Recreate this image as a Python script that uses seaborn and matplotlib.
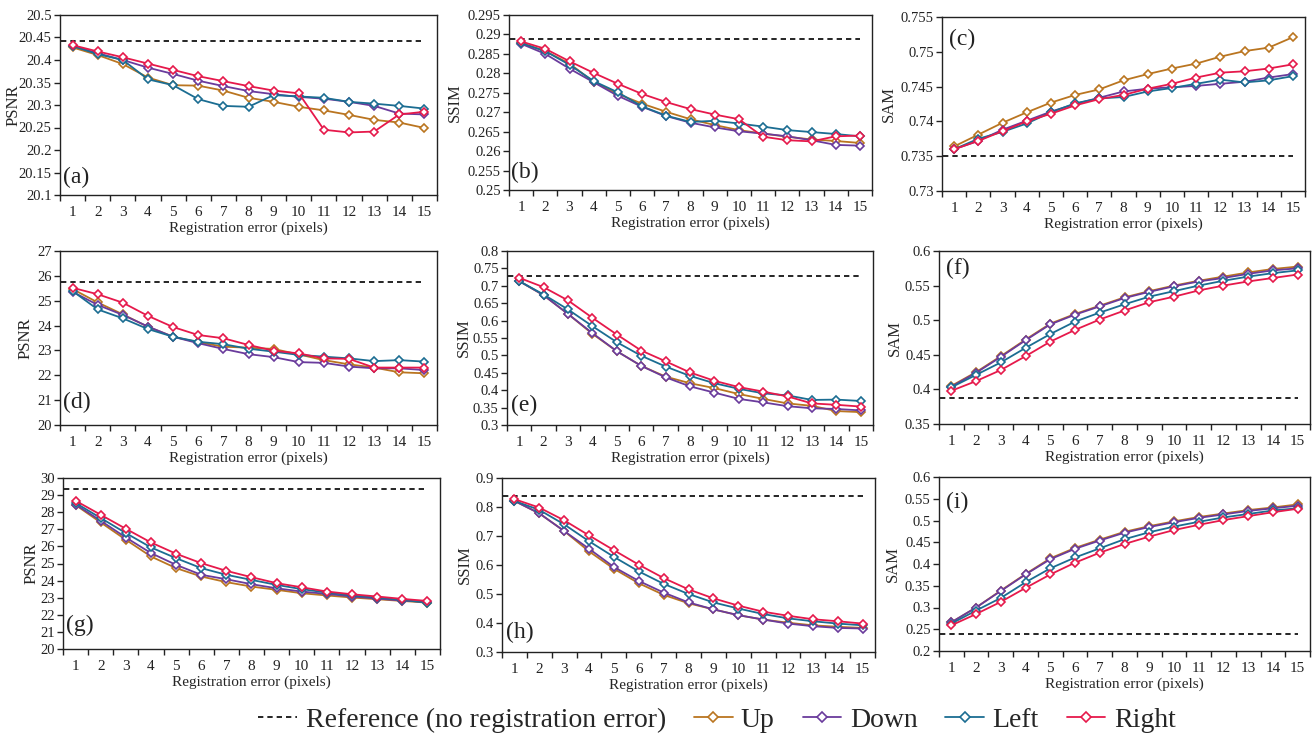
import numpy as np
import pandas as pd
import matplotlib
matplotlib.use("Agg")
import matplotlib.pyplot as plt
from matplotlib.lines import Line2D
from matplotlib.ticker import FuncFormatter, FixedLocator
import seaborn as sns

# ---------------- data ----------------
shifts = list(range(1, 16))
directions = ["Up", "Down", "Left", "Right"]
colors = {"Up": "#BA7520", "Down": "#6A3B9C", "Left": "#1B6D92", "Right": "#E6194B"}

# (a) PSNR
a_ref = 20.443
a_up = [20.428, 20.411, 20.391, 20.361, 20.344, 20.343, 20.332, 20.316, 20.307, 20.296, 20.288, 20.278, 20.267, 20.261, 20.249]
a_down = [20.432, 20.415, 20.400, 20.383, 20.369, 20.354, 20.342, 20.331, 20.324, 20.318, 20.314, 20.307, 20.298, 20.281, 20.279]
a_left = [20.431, 20.413, 20.400, 20.357, 20.344, 20.313, 20.298, 20.296, 20.322, 20.319, 20.316, 20.307, 20.303, 20.298, 20.292]
a_right = [20.433, 20.419, 20.406, 20.392, 20.378, 20.364, 20.353, 20.342, 20.332, 20.326, 20.245, 20.239, 20.241, 20.279, 20.285]

# (b) SSIM
b_ref = 0.2889
b_up = [0.2878, 0.2857, 0.2825, 0.2778, 0.2747, 0.2722, 0.2701, 0.2682, 0.2667, 0.2654, 0.2645, 0.2637, 0.2630, 0.2626, 0.2621]
b_down = [0.2876, 0.2850, 0.2812, 0.2777, 0.2742, 0.2714, 0.2690, 0.2673, 0.2661, 0.2651, 0.2645, 0.2638, 0.2628, 0.2616, 0.2614]
b_left = [0.2878, 0.2857, 0.2822, 0.2780, 0.2751, 0.2715, 0.2691, 0.2675, 0.2678, 0.2671, 0.2663, 0.2654, 0.2649, 0.2644, 0.2638]
b_right = [0.2882, 0.2863, 0.2831, 0.2801, 0.2773, 0.2747, 0.2726, 0.2708, 0.2694, 0.2682, 0.2637, 0.2628, 0.2625, 0.2638, 0.2640]

# (c) SAM
c_ref = 0.7351
c_up = [0.7364, 0.7381, 0.7398, 0.7413, 0.7427, 0.7438, 0.7446, 0.7459, 0.7468, 0.7476, 0.7483, 0.7493, 0.7501, 0.7506, 0.7521]
c_down = [0.7360, 0.7372, 0.7388, 0.7401, 0.7414, 0.7425, 0.7434, 0.7443, 0.7447, 0.7449, 0.7451, 0.7454, 0.7457, 0.7463, 0.7468]
c_left = [0.7360, 0.7375, 0.7385, 0.7397, 0.7413, 0.7426, 0.7433, 0.7435, 0.7443, 0.7448, 0.7454, 0.7460, 0.7456, 0.7459, 0.7465]
c_right = [0.7360, 0.7372, 0.7386, 0.7400, 0.7411, 0.7423, 0.7432, 0.7438, 0.7447, 0.7454, 0.7463, 0.7470, 0.7472, 0.7476, 0.7482]

# (d) PSNR
d_ref = 25.77
d_up = [25.47, 24.93, 24.45, 23.95, 23.55, 23.33, 23.15, 23.11, 23.06, 22.84, 22.61, 22.44, 22.31, 22.12, 22.08]
d_down = [25.36, 24.83, 24.43, 23.96, 23.55, 23.29, 23.06, 22.85, 22.73, 22.53, 22.50, 22.35, 22.28, 22.28, 22.21]
d_left = [25.39, 24.65, 24.29, 23.86, 23.55, 23.35, 23.25, 23.07, 22.95, 22.82, 22.75, 22.68, 22.57, 22.61, 22.55]
d_right = [25.52, 25.26, 24.92, 24.39, 23.94, 23.62, 23.49, 23.22, 22.99, 22.88, 22.68, 22.66, 22.31, 22.31, 22.31]

# (e) SSIM
e_ref = 0.728
e_up = [0.7135, 0.673, 0.619, 0.562, 0.512, 0.470, 0.439, 0.420, 0.406, 0.389, 0.375, 0.362, 0.355, 0.340, 0.337]
e_down = [0.7135, 0.673, 0.619, 0.564, 0.512, 0.470, 0.437, 0.411, 0.393, 0.375, 0.365, 0.354, 0.348, 0.346, 0.342]
e_left = [0.7135, 0.675, 0.632, 0.584, 0.538, 0.499, 0.468, 0.441, 0.420, 0.404, 0.391, 0.385, 0.372, 0.373, 0.369]
e_right = [0.723, 0.696, 0.658, 0.608, 0.560, 0.514, 0.483, 0.451, 0.427, 0.409, 0.396, 0.382, 0.362, 0.358, 0.353]

# (f) SAM
f_ref = 0.387
f_up = [0.405, 0.425, 0.448, 0.472, 0.495, 0.509, 0.521, 0.533, 0.542, 0.550, 0.557, 0.563, 0.569, 0.574, 0.5775]
f_down = [0.404, 0.424, 0.447, 0.471, 0.494, 0.508, 0.520, 0.532, 0.541, 0.549, 0.556, 0.561, 0.567, 0.572, 0.575]
f_left = [0.403, 0.421, 0.439, 0.460, 0.480, 0.498, 0.511, 0.523, 0.534, 0.542, 0.550, 0.557, 0.563, 0.568, 0.572]
f_right = [0.398, 0.412, 0.428, 0.448, 0.469, 0.486, 0.501, 0.514, 0.526, 0.534, 0.543, 0.550, 0.556, 0.561, 0.566]

# (g) PSNR
g_ref = 29.36
g_up = [28.42, 27.40, 26.39, 25.41, 24.73, 24.24, 23.91, 23.65, 23.46, 23.26, 23.13, 23.01, 22.91, 22.81, 22.71]
g_down = [28.45, 27.50, 26.52, 25.61, 24.92, 24.34, 24.08, 23.79, 23.55, 23.36, 23.22, 23.07, 22.95, 22.83, 22.75]
g_left = [28.54, 27.66, 26.78, 25.94, 25.31, 24.73, 24.34, 24.04, 23.75, 23.50, 23.30, 23.13, 23.01, 22.87, 22.71]
g_right = [28.67, 27.85, 27.03, 26.23, 25.57, 25.02, 24.57, 24.20, 23.85, 23.61, 23.36, 23.20, 23.07, 22.93, 22.81]

# (h) SSIM
h_ref = 0.8386
h_up = [0.821, 0.778, 0.717, 0.647, 0.587, 0.537, 0.497, 0.468, 0.447, 0.427, 0.412, 0.401, 0.392, 0.387, 0.383]
h_down = [0.821, 0.778, 0.717, 0.656, 0.593, 0.545, 0.505, 0.471, 0.447, 0.427, 0.412, 0.398, 0.389, 0.383, 0.381]
h_left = [0.821, 0.790, 0.740, 0.682, 0.628, 0.578, 0.535, 0.500, 0.471, 0.450, 0.431, 0.416, 0.406, 0.398, 0.392]
h_right = [0.827, 0.798, 0.754, 0.702, 0.651, 0.601, 0.555, 0.516, 0.485, 0.460, 0.439, 0.425, 0.413, 0.406, 0.398]

# (i) SAM
i_ref = 0.2386
i_up = [0.266, 0.300, 0.339, 0.377, 0.413, 0.437, 0.456, 0.474, 0.487, 0.498, 0.508, 0.516, 0.524, 0.530, 0.537]
i_down = [0.266, 0.300, 0.338, 0.376, 0.411, 0.435, 0.454, 0.472, 0.485, 0.496, 0.506, 0.514, 0.522, 0.528, 0.534]
i_left = [0.263, 0.293, 0.322, 0.358, 0.390, 0.415, 0.436, 0.457, 0.473, 0.486, 0.497, 0.507, 0.515, 0.523, 0.528]
i_right = [0.259, 0.285, 0.313, 0.345, 0.376, 0.403, 0.426, 0.446, 0.463, 0.478, 0.490, 0.501, 0.510, 0.519, 0.527]

ylabels = ["PSNR", "SSIM", "SAM"] * 3
panel_tags = ["(a)", "(b)", "(c)", "(d)", "(e)", "(f)", "(g)", "(h)", "(i)"]
xlabel = "Registration error (pixels)"
legend_labels = ["Reference (no registration error)", "Up", "Down", "Left", "Right"]

panels = [
    (a_ref, a_up, a_down, a_left, a_right),
    (b_ref, b_up, b_down, b_left, b_right),
    (c_ref, c_up, c_down, c_left, c_right),
    (d_ref, d_up, d_down, d_left, d_right),
    (e_ref, e_up, e_down, e_left, e_right),
    (f_ref, f_up, f_down, f_left, f_right),
    (g_ref, g_up, g_down, g_left, g_right),
    (h_ref, h_up, h_down, h_left, h_right),
    (i_ref, i_up, i_down, i_left, i_right),
]

# y-axis settings (min, max, step)
yaxes = [
    (20.1, 20.5, 0.05), (0.25, 0.295, 0.005), (0.73, 0.755, 0.005),
    (20, 27, 1), (0.3, 0.8, 0.05), (0.35, 0.6, 0.05),
    (20, 30, 1), (0.3, 0.9, 0.1), (0.2, 0.6, 0.05),
]

# axes boxes in pixels (left, right, top, bottom)
W, H = 1315, 738
boxes = [
    (60, 437, 15, 195), (509, 872, 15, 190), (942, 1305, 17, 191),
    (60, 437, 251, 425), (507, 873, 251, 425), (939, 1310, 251, 424),
    (63, 440, 478, 649), (502, 875, 478, 652), (939, 1310, 477, 651),
]
ylabel_x = [14, 455, 889, 26, 464, 895, 32, 465, 893]  # label centre, pixels
tag_pos = [(0.008, 0.095), (0.005, 0.10), (0.02, 0.87),
           (0.008, 0.13), (0.01, 0.115), (0.02, 0.90),
           (0.008, 0.14), (0.01, 0.115), (0.02, 0.856)]

# ---------------- style ----------------
sns.set_style("ticks")
plt.rcParams["font.family"] = ["Liberation Serif", "DejaVu Serif"]
plt.rcParams["axes.edgecolor"] = "#222222"
plt.rcParams["axes.linewidth"] = 1.0
plt.rcParams["xtick.color"] = "#222222"
plt.rcParams["ytick.color"] = "#222222"

fig = plt.figure(figsize=(W / 100, H / 100), dpi=100)
fig.patch.set_facecolor("white")

def fmt(v, pos=None):
    return f"{v:.4f}".rstrip("0").rstrip(".")

for k, (vals, ylim, box) in enumerate(zip(panels, yaxes, boxes)):
    l, r, t, b = box
    ax = fig.add_axes([l / W, 1 - b / H, (r - l) / W, (b - t) / H])
    ref = vals[0]
    series = vals[1:]
    for name, ys in zip(directions, series):
        c = colors[name]
        sns.lineplot(x=shifts, y=ys, ax=ax, color=c, lw=1.3, marker="D",
                     markersize=4.3, markerfacecolor="white", markeredgecolor=c,
                     markeredgewidth=1.2, legend=False)
    ax.hlines(ref, 0.55, 15.0, colors="black", linestyles=(0, (3.2, 2.4)), lw=1.2, zorder=1)
    ax.set_xlim(0.5, 15.5)
    ymin, ymax, step = ylim
    n = int(round((ymax - ymin) / step))
    ticks = [ymin + step * j for j in range(n + 1)]
    ax.set_ylim(ymin, ymax)
    ax.yaxis.set_major_locator(FixedLocator(ticks))
    ax.yaxis.set_major_formatter(FuncFormatter(fmt))
    ax.set_xticks(shifts)
    ax.set_xticklabels([str(s) for s in shifts])
    ax.xaxis.set_minor_locator(FixedLocator([s - 0.5 for s in shifts] + [15.5]))
    ax.tick_params(axis="x", which="major", length=0, labelsize=11, pad=8)
    ax.tick_params(axis="x", which="minor", length=4, width=1, direction="out")
    ax.tick_params(axis="y", which="major", length=4, width=1, direction="out", labelsize=10.5, pad=2)
    ax.set_xlabel(xlabel, fontsize=11, labelpad=2)
    ax.set_ylabel(ylabels[k], fontsize=12)
    ax.yaxis.label.set_va("center")
    ax.yaxis.set_label_coords((ylabel_x[k] - l) / (r - l), 0.5)
    for sp in ax.spines.values():
        sp.set_visible(True)
    tx, ty = tag_pos[k]
    ax.text(tx, ty, panel_tags[k], transform=ax.transAxes, fontsize=17,
            ha="left", va="center", color="#222222")

handles = [Line2D([], [], color="black", lw=1.2, linestyle=(0, (3.2, 2.4)))]
for name in directions:
    c = colors[name]
    handles.append(Line2D([], [], color=c, lw=1.3, marker="D", markersize=5,
                          markerfacecolor="white", markeredgecolor=c, markeredgewidth=1.2))
fig.legend(handles, legend_labels, loc="center", bbox_to_anchor=(717 / W, 1 - 720 / H),
           ncol=5, frameon=False, fontsize=20, handlelength=1.4, handletextpad=0.3,
           columnspacing=1.0)

fig.savefig("out.png", dpi=100, facecolor="white")
